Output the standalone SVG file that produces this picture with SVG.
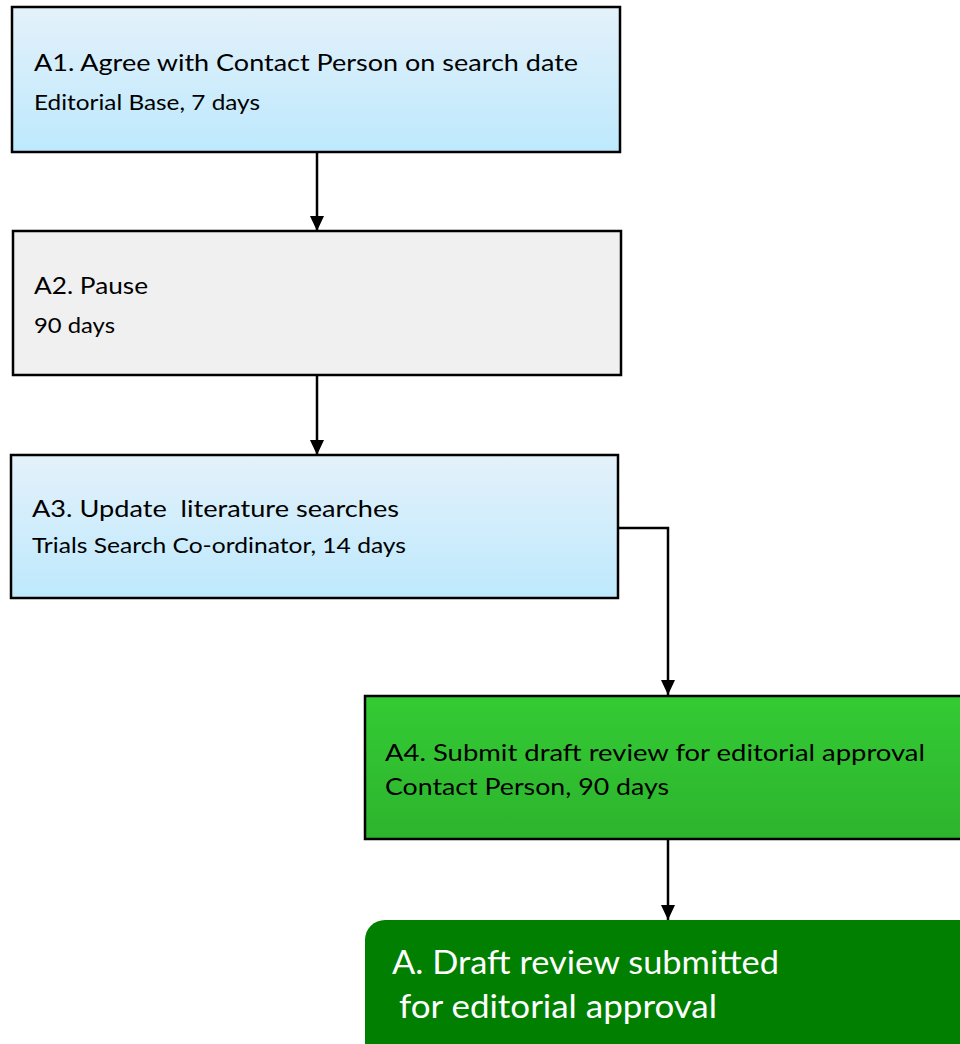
<svg xmlns="http://www.w3.org/2000/svg" width="960" height="1044" viewBox="0 0 960 1044">
  <defs>
    <linearGradient id="blueFill" x1="0" y1="0" x2="0" y2="1">
      <stop offset="0" stop-color="#e4f1fa"/>
      <stop offset="1" stop-color="#bde9fd"/>
    </linearGradient>
    <linearGradient id="greenFill" x1="0" y1="0" x2="0" y2="1">
      <stop offset="0" stop-color="#34cb34"/>
      <stop offset="1" stop-color="#2db42d"/>
    </linearGradient>
    <marker id="arrow" markerUnits="userSpaceOnUse" viewBox="0 0 15 14" refX="15" refY="7" markerWidth="15" markerHeight="14" orient="auto">
      <path d="M0,0 L15,7 L0,14 z" fill="#000"/>
    </marker>
    <style>
      .box { stroke: #000; stroke-width: 2.5; }
      .title { font-family: Lato, "Open Sans", sans-serif; font-size: 24px; fill: #000; white-space: pre; }
      .sub { font-family: Lato, "Open Sans", sans-serif; font-size: 22px; fill: #000; }
      .final { font-family: Lato, "Open Sans", sans-serif; font-size: 32px; fill: #fff; }
      .link { fill: none; stroke: #000; stroke-width: 2.5; marker-end: url(#arrow); }
    </style>
  </defs>

  <rect width="960" height="1044" fill="#fff"/>

  <!-- flow connectors -->
  <g id="connectors">
    <path class="link" d="M317,152 V231"/>
    <path class="link" d="M317,375 V455"/>
    <path class="link" d="M618,528 H668 V695"/>
    <path class="link" d="M668,839 V920"/>
  </g>

  <g id="A1">
    <rect class="box" x="12" y="7" width="608" height="145" fill="url(#blueFill)"/>
    <text class="title" x="34" y="71" textLength="544" lengthAdjust="spacingAndGlyphs">A1. Agree with Contact Person on search date</text>
    <text class="sub" x="34" y="110" textLength="226" lengthAdjust="spacingAndGlyphs">Editorial Base, 7 days</text>
  </g>

  <g id="A2">
    <rect class="box" x="13" y="231" width="608" height="144" fill="#f0f0f0"/>
    <text class="title" x="34" y="294" textLength="114" lengthAdjust="spacingAndGlyphs">A2. Pause</text>
    <text class="sub" x="34" y="333" textLength="81" lengthAdjust="spacingAndGlyphs">90 days</text>
  </g>

  <g id="A3">
    <rect class="box" x="11" y="455" width="607" height="143" fill="url(#blueFill)"/>
    <text class="title" x="32" y="517" textLength="367" lengthAdjust="spacingAndGlyphs">A3. Update  literature searches</text>
    <text class="sub" x="32" y="553" textLength="374" lengthAdjust="spacingAndGlyphs">Trials Search Co-ordinator, 14 days</text>
  </g>

  <g id="A4">
    <rect class="box" x="365" y="696" width="620" height="143" fill="url(#greenFill)"/>
    <text class="title" x="385" y="761" textLength="540" lengthAdjust="spacingAndGlyphs">A4. Submit draft review for editorial approval</text>
    <text class="title" x="385" y="795" textLength="284" lengthAdjust="spacingAndGlyphs">Contact Person, 90 days</text>
  </g>

  <g id="A">
    <rect x="365" y="920" width="620" height="160" rx="20" ry="20" fill="#007f00"/>
    <text class="final" x="392" y="974" textLength="387" lengthAdjust="spacingAndGlyphs">A. Draft review submitted</text>
    <text class="final" x="399" y="1018" textLength="318" lengthAdjust="spacingAndGlyphs">for editorial approval</text>
  </g>
</svg>
